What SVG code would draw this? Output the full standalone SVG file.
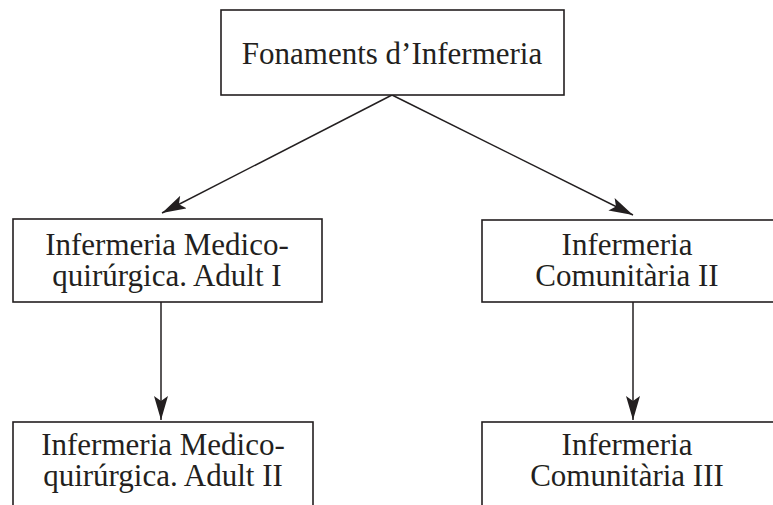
<svg xmlns="http://www.w3.org/2000/svg" width="773" height="505" viewBox="0 0 773 505">
<style>
.box{fill:#fff;stroke:#231f20;stroke-width:1.6}
.t{font-family:"Liberation Serif","Times New Roman",serif;font-size:31px;fill:#231f20;text-anchor:middle}
.c{stroke:#231f20;stroke-width:1.5;fill:none}
</style>
<defs>
<marker id="ah" viewBox="0 0 24 14" refX="24" refY="7" markerWidth="24" markerHeight="14" markerUnits="userSpaceOnUse" orient="auto">
<path d="M0,0 L24,7 L0,14 L5,7 Z" fill="#231f20"/>
</marker>
</defs>
<rect width="773" height="505" fill="#fff"/>
<g id="connectors">
<line class="c" x1="392" y1="95" x2="162" y2="213" marker-end="url(#ah)"/>
<line class="c" x1="392" y1="95" x2="633" y2="215" marker-end="url(#ah)"/>
<line class="c" x1="161" y1="302" x2="161" y2="420" marker-end="url(#ah)"/>
<line class="c" x1="633" y1="302" x2="633" y2="420" marker-end="url(#ah)"/>
</g>
<g id="n1">
<rect class="box" x="221" y="10" width="343" height="85"/>
<text class="t" x="392" y="64">Fonaments d’Infermeria</text>
</g>
<g id="n2">
<rect class="box" x="13" y="219" width="309" height="83"/>
<text class="t" x="167" y="255">Infermeria Medico-</text>
<text class="t" x="167" y="286">quirúrgica. Adult I</text>
</g>
<g id="n3">
<rect class="box" x="482" y="220" width="295" height="82"/>
<text class="t" x="627" y="255">Infermeria</text>
<text class="t" x="627" y="286">Comunitària II</text>
</g>
<g id="n4">
<rect class="box" x="13" y="422" width="300" height="100"/>
<text class="t" x="163" y="455">Infermeria Medico-</text>
<text class="t" x="163" y="486">quirúrgica. Adult II</text>
</g>
<g id="n5">
<rect class="box" x="482" y="422" width="295" height="100"/>
<text class="t" x="627" y="455">Infermeria</text>
<text class="t" x="627" y="486">Comunitària III</text>
</g>
</svg>
